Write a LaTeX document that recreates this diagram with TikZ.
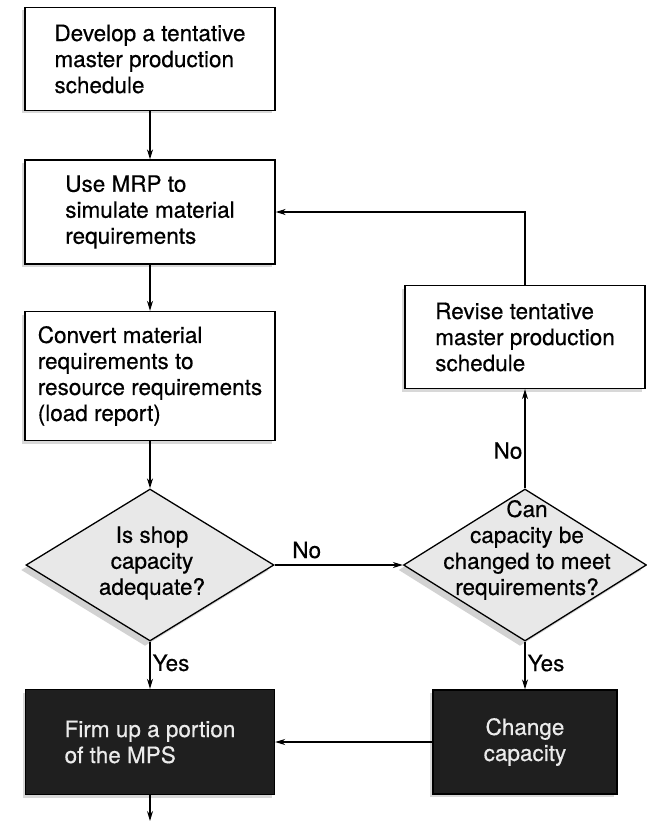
\documentclass[tikz,border=0pt]{standalone}
\usepackage{fontspec}
\setmainfont{TeX Gyre Heros}[FakeBold=0.45]
\usetikzlibrary{arrows.meta,shapes.geometric,shadows}
\begin{document}
\begin{tikzpicture}[x=1pt,y=-1pt,
  every node/.style={font=\fontsize{22.5}{26}\selectfont},
  procbox/.style={draw, line width=1.3pt, fill=white, align=left, inner sep=0pt,
    drop shadow={shadow xshift=-3pt, shadow yshift=-3pt, fill=black!30, opacity=0.5}},
  darkbox/.style={draw, line width=1.3pt, fill=black!88, text=black!8, inner sep=0pt,
    drop shadow={shadow xshift=-3pt, shadow yshift=-3pt, fill=black!30, opacity=0.5}},
  decision/.style={draw, diamond, line width=1.3pt, fill=black!9, inner sep=0pt,
    drop shadow={shadow xshift=-5pt, shadow yshift=-5pt, fill=black!35, opacity=0.5}},
  qtext/.style={align=center, inner sep=0pt},
  flow/.style={line width=1.3pt, -{Stealth[length=10pt,width=6pt]}},
  tag/.style={inner sep=2pt}
]
\useasboundingbox (0,0) rectangle (647,837);

% process boxes
\node[procbox, minimum width=250pt, minimum height=103pt] (b1) at (150,59)
  {Develop a tentative\\master production\\schedule};
\node[procbox, minimum width=250pt, minimum height=104pt] (b2) at (150,212)
  {Use MRP to\\simulate material\\requirements};
\node[procbox, minimum width=250pt, minimum height=129pt] (b3) at (150,376)
  {Convert material\\requirements to\\resource requirements\\(load report)};
\node[procbox, minimum width=240pt, minimum height=103pt] (b4) at (525,337)
  {Revise tentative\\master production\\schedule};

% decisions
\node[decision, minimum width=248pt, minimum height=152pt] (d1) at (150,565) {};
\node[qtext] (d1t) at (152,563) {Is shop\\capacity\\adequate?};
\node[decision, minimum width=243pt, minimum height=152pt] (d2) at (525,565) {};
\node[qtext] (d2t) at (527,550) {Can\\capacity be\\changed to meet\\requirements?};

% dark action boxes
\node[darkbox, align=left, minimum width=249pt, minimum height=105pt] (b5) at (150,742)
  {Firm up a portion\\of the MPS};
\node[darkbox, align=center, minimum width=184pt, minimum height=104pt] (b6) at (525,742)
  {Change\\capacity};

\coordinate (out) at (150,821);

% connectors
\draw[flow] (b1) -- (b2);
\draw[flow] (b2) -- (b3);
\draw[flow] (b3) -- (d1);
\draw[flow] (d1.east) -- node[tag, above=4pt, pos=0.25] (lno) {No} (d2.west);
\draw[flow] (d1.south) -- node[tag, right, pos=0.45] (lyes1) {Yes} (b5.north);
\draw[flow] (d2.south) -- node[tag, right, pos=0.45] (lyes2) {Yes} (b6.north);
\draw[flow] (d2.north) -- node[tag, left, pos=0.38] (lno2) {No} (b4.south);
\draw[flow] (b4.north) |- (b2.east);
\draw[flow] (b6.west) -- (b5.east);
\draw[flow] (b5.south) -- (out);
\end{tikzpicture}
\end{document}
